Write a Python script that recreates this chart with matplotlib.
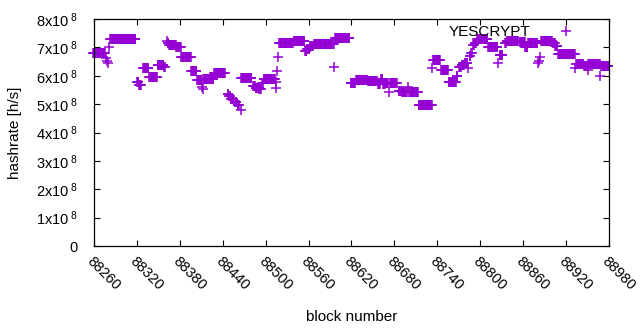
import numpy as np
import matplotlib
matplotlib.use("Agg")
import matplotlib.pyplot as plt
from matplotlib.ticker import FuncFormatter

plt.rcParams['font.family'] = ['Liberation Sans', 'DejaVu Sans']
plt.rcParams['mathtext.fontset'] = 'custom'
plt.rcParams['mathtext.rm'] = 'Liberation Sans'
plt.rcParams['mathtext.default'] = 'regular'

# hashrate runs: first block, last block, hashrate (x1e8 h/s)
seg_start = [88259, 88277, 88278, 88279, 88281, 88283, 88320, 88323, 88329, 88337,
             88349, 88358, 88362, 88363, 88365, 88375, 88382, 88396, 88404, 88411,
             88412, 88413, 88428, 88447, 88449, 88452, 88457, 88461, 88465, 88466,
             88482, 88486, 88491, 88495, 88497, 88514, 88515, 88516, 88517, 88519,
             88539, 88555, 88558, 88562, 88568, 88596, 88597, 88619, 88626, 88643,
             88657, 88661, 88664, 88668, 88673, 88674, 88686, 88691, 88699, 88701,
             88714, 88733, 88734, 88745, 88756, 88767, 88770, 88774, 88778, 88783,
             88785, 88787, 88790, 88792, 88796, 88811, 88825, 88827, 88835, 88837,
             88855, 88863, 88867, 88881, 88882, 88883, 88885, 88902, 88905, 88909,
             88933, 88934, 88946, 88950, 88951, 88968, 88969]
seg_end = [88275, 88277, 88278, 88279, 88281, 88318, 88322, 88326, 88336, 88348,
           88357, 88359, 88362, 88364, 88374, 88381, 88395, 88403, 88410, 88411,
           88412, 88427, 88443, 88448, 88450, 88455, 88459, 88463, 88465, 88480,
           88485, 88490, 88493, 88496, 88513, 88514, 88515, 88516, 88517, 88538,
           88554, 88557, 88561, 88566, 88595, 88596, 88617, 88625, 88642, 88655,
           88660, 88663, 88667, 88671, 88673, 88683, 88690, 88697, 88699, 88713,
           88732, 88733, 88744, 88755, 88766, 88768, 88773, 88777, 88782, 88783,
           88786, 88788, 88791, 88794, 88810, 88824, 88825, 88831, 88836, 88853,
           88862, 88866, 88880, 88881, 88882, 88883, 88900, 88904, 88908, 88932,
           88933, 88944, 88949, 88950, 88967, 88968, 88979]
seg_value = [6.79, 6.62, 6.52, 6.45, 7.00, 7.28, 5.79, 5.67, 6.26, 5.95,
             6.38, 6.30, 7.22, 7.16, 7.08, 7.00, 6.65, 6.15, 5.84, 5.60,
             5.52, 5.87, 6.08, 5.35, 5.27, 5.18, 5.08, 4.98, 4.79, 5.91,
             5.64, 5.57, 5.52, 5.75, 5.87, 5.78, 5.56, 6.17, 6.65, 7.14,
             7.22, 6.88, 6.95, 7.04, 7.11, 6.30, 7.32, 5.73, 5.85, 5.81,
             5.72, 5.87, 5.70, 5.76, 5.42, 5.73, 5.47, 5.43, 5.62, 5.42,
             4.97, 6.26, 6.55, 6.20, 5.77, 6.00, 6.30, 6.38, 6.45, 6.26,
             6.68, 6.79, 7.08, 7.15, 7.28, 7.00, 6.44, 6.72, 7.14, 7.22,
             7.18, 7.02, 7.14, 6.44, 6.52, 6.65, 7.22, 7.15, 7.06, 6.76,
             6.29, 6.41, 6.35, 6.20, 6.40, 6.00, 6.35]

x_ticks = [88260, 88320, 88380, 88440, 88500, 88560, 88620, 88680, 88740,
           88800, 88860, 88920, 88980]

blocks = np.concatenate([np.arange(s, e + 1) for s, e in zip(seg_start, seg_end)])
rates = np.concatenate([np.full(e - s + 1, v * 1e8)
                        for s, e, v in zip(seg_start, seg_end, seg_value)])

fig = plt.figure(figsize=(6.4, 3.3), dpi=100)
ax = fig.add_axes([94 / 640, 84 / 330, 515 / 640, 227 / 330])

ax.plot(blocks, rates, linestyle='none', marker='+', markersize=6.5,
        markeredgewidth=1.1, color='#9400d3', label='YESCRYPT', clip_on=False)

ax.set_xlim(88260, 88980)
ax.set_ylim(0, 8e8)
ax.set_xticks(x_ticks)
ax.set_xticklabels([str(t) for t in x_ticks], rotation=-45, ha='left', va='top',
                   rotation_mode='anchor', fontsize=10.5)
ax.set_yticks(np.arange(0, 9) * 1e8)
ax.yaxis.set_major_formatter(FuncFormatter(
    lambda v, p: '0' if v == 0 else r'%dx10$\,^{8}$' % round(v / 1e8)))
ax.tick_params(direction='in', length=4, width=0.8, top=True, right=True,
               labelsize=10.5)
ax.tick_params(axis='y', pad=12)
ax.tick_params(axis='x', pad=6)
for sp in ax.spines.values():
    sp.set_linewidth(0.9)

ax.set_xlabel('block number', fontsize=11, labelpad=12)
ax.set_ylabel('hashrate [h/s]', fontsize=11, labelpad=10)

ax.legend(loc='center right', bbox_to_anchor=(581 / 640, 1 - 32 / 330),
          bbox_transform=fig.transFigure, frameon=False, markerfirst=False,
          borderpad=0, borderaxespad=0, handlelength=2, handletextpad=1.3,
          fontsize=11)

fig.savefig('out.png', dpi=100)
